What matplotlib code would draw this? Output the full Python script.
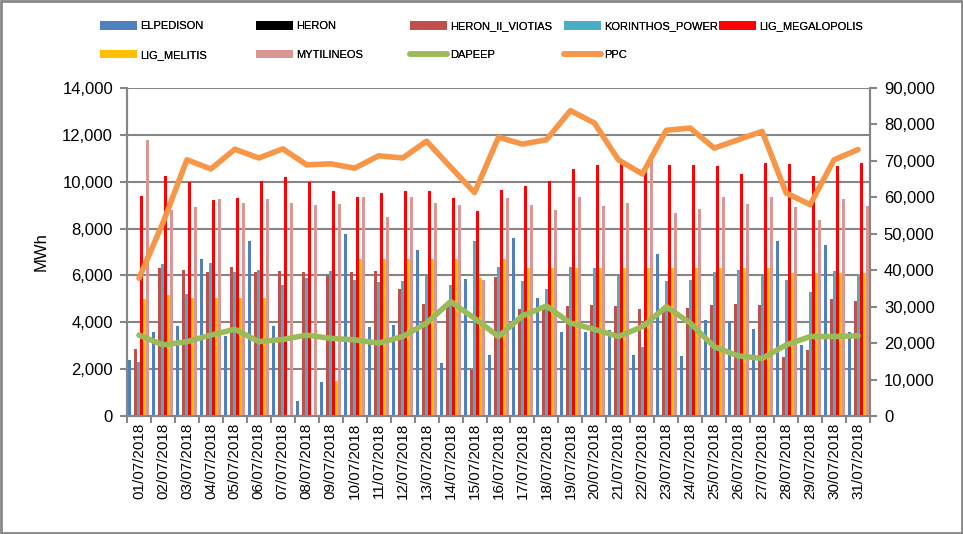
import matplotlib
matplotlib.use("Agg")
import matplotlib.pyplot as plt
from matplotlib.lines import Line2D
from matplotlib.patches import Patch, Rectangle
import numpy as np

dates = [f"{d:02d}/07/2018" for d in range(1, 32)]

ELPEDISON = [2400, 3600, 3850, 6700, 3400, 7450, 3850, 650, 1450, 7750, 3800, 3900, 7100, 2250, 5850,
             2600, 7600, 5050, 3600, 3600, 3650, 2600, 6900, 2550, 4100, 4050, 3700, 7450, 3050, 7300, 3600]
HERON = [0] * 31
HERON_II_VIOTIAS = [2850, 6300, 6250, 6150, 6350, 6150, 6200, 6150, 6000, 6150, 6200, 5400, 4800, 4700, 1950,
                    5950, 4550, 4550, 4700, 4750, 4700, 4550, 4550, 4600, 4750, 4800, 4750, 2500, 2800, 5000, 4900]
KORINTHOS_POWER = [2300, 6500, 5200, 6550, 6150, 6250, 5600, 5900, 6200, 5800, 5700, 5750, 6000, 5600, 7450,
                   6350, 5750, 5400, 6350, 6300, 6000, 2950, 5750, 5800, 6150, 6250, 6000, 5800, 5300, 6200, 6050]
LIG_MEGALOPOLIS = [9400, 10250, 10000, 9200, 9300, 10050, 10200, 10000, 9600, 9350, 9500, 9600, 9600, 9300, 8750,
                   9650, 9800, 10050, 10550, 10700, 10750, 10500, 10700, 10700, 10650, 10350, 10800, 10750, 10250, 10650, 10800]
LIG_MELITIS = [5000, 5150, 5050, 5050, 5050, 5050, 0, 0, 1500, 6700, 6700, 6700, 6700, 6700, 5900,
               6700, 6300, 6300, 6300, 6300, 6300, 6300, 6300, 6300, 6300, 6300, 6300, 6100, 6100, 6100, 6100]
MYTILINEOS = [11800, 8800, 8900, 9250, 9100, 9250, 9100, 9000, 9050, 9350, 8500, 9350, 9100, 9000, 5800,
              9300, 9000, 8800, 9350, 8950, 9100, 11200, 8650, 8850, 9350, 9050, 9350, 8900, 8350, 9250, 8950]
DAPEEP = [22200, 19500, 20400, 22200, 23800, 20400, 21000, 22200, 21300, 20900, 20000, 21800, 25500, 31400, 26800,
          21800, 27500, 30200, 25500, 23800, 21800, 24500, 30000, 25500, 19000, 16500, 15800, 19500, 21800, 21800, 22000]
PPC = [37800, 53000, 70300, 67800, 73200, 70800, 73300, 68900, 69200, 68000, 71400, 70800, 75400, 68300, 61300,
       76500, 74600, 75800, 83800, 80400, 70300, 66400, 78400, 79000, 73500, 75800, 78100, 61200, 58000, 70300, 73100]

bar_names = ["ELPEDISON", "HERON", "HERON_II_VIOTIAS", "KORINTHOS_POWER", "LIG_MEGALOPOLIS", "LIG_MELITIS", "MYTILINEOS"]
bar_data = [ELPEDISON, HERON, HERON_II_VIOTIAS, KORINTHOS_POWER, LIG_MEGALOPOLIS, LIG_MELITIS, MYTILINEOS]
bar_colors = ["#4F81BD", "#000000", "#C0504D", "#4BACC6", "#FF0000", "#FFC000", "#D99694"]

plt.rcParams['font.family'] = ['Liberation Sans', 'DejaVu Sans']

fig = plt.figure(figsize=(9.63, 5.34), dpi=100)
ax = fig.add_axes([127/963, 1-416/534, (870-127)/963, (416-88)/534])
ax2 = ax.twinx()

x = np.arange(len(dates))
bw = 0.125
for k, (name, vals, col) in enumerate(zip(bar_names, bar_data, bar_colors)):
    ax.bar(x + (k - 3) * bw, vals, width=bw, color=col, label=name, zorder=3, linewidth=0)

ax2.plot(x, DAPEEP, color="#9BBB59", lw=4, solid_joinstyle='round', solid_capstyle='round', zorder=4)
ax2.plot(x, PPC, color="#F79646", lw=4, solid_joinstyle='round', solid_capstyle='round', zorder=4)

ax.set_xlim(-0.5, len(dates) - 0.5)
ax.set_ylim(0, 14000)
ax2.set_ylim(0, 90000)
ax.set_yticks(np.arange(0, 14001, 2000))
ax2.set_yticks(np.arange(0, 90001, 10000))
ax.yaxis.set_major_formatter(matplotlib.ticker.FuncFormatter(lambda v, p: f"{int(v):,}"))
ax2.yaxis.set_major_formatter(matplotlib.ticker.FuncFormatter(lambda v, p: f"{int(v):,}"))

ax.set_xticks(x)
ax.set_xticklabels(dates, rotation=90, fontsize=11)
ax.set_xticks(np.arange(-0.5, len(dates)), minor=True)
ax.tick_params(axis='x', which='major', length=0, pad=5)
ax.tick_params(axis='x', which='minor', length=5, color='#868686', width=1.5)
ax.tick_params(axis='y', length=5, color='#868686', width=1.5, labelsize=12, pad=5)
ax2.tick_params(axis='y', length=5, color='#868686', width=1.5, labelsize=12, pad=5)

ax.grid(axis='y', color='#868686', lw=1.5, zorder=0)
ax.set_axisbelow(True)
for a in (ax, ax2):
    a.spines['top'].set_visible(False)
    for s in ('left', 'right', 'bottom'):
        a.spines[s].set_color('#868686')
        a.spines[s].set_linewidth(1.5)
ax.set_ylabel("MWh", fontsize=12, labelpad=10)

# legend: 5 evenly spaced columns, 2 rows
handles = {n: Patch(facecolor=c, edgecolor='none') for n, c in zip(bar_names, bar_colors)}
handles["DAPEEP"] = Line2D([0], [0], color="#9BBB59", lw=4, solid_capstyle='round')
handles["PPC"] = Line2D([0], [0], color="#F79646", lw=4, solid_capstyle='round')
columns = [["ELPEDISON", "LIG_MELITIS"], ["HERON", "MYTILINEOS"], ["HERON_II_VIOTIAS", "DAPEEP"],
           ["KORINTHOS_POWER", "PPC"], ["LIG_MEGALOPOLIS"]]
col_x = [100, 256, 410, 564, 719]
for cx, names in zip(col_x, columns):
    leg = fig.legend([handles[n] for n in names], names, loc='upper left',
                     bbox_to_anchor=(cx/963, 1 - 21/534), frameon=False, fontsize=8,
                     handlelength=3.3, handleheight=0.85, handletextpad=0.3,
                     labelspacing=1.65, borderpad=0, borderaxespad=0)
    fig.add_artist(leg)

fig.add_artist(Rectangle((0.001, 0.001), 0.998, 0.997, transform=fig.transFigure,
                         fill=False, edgecolor='#868686', lw=2))

fig.savefig("out.png", dpi=100)
